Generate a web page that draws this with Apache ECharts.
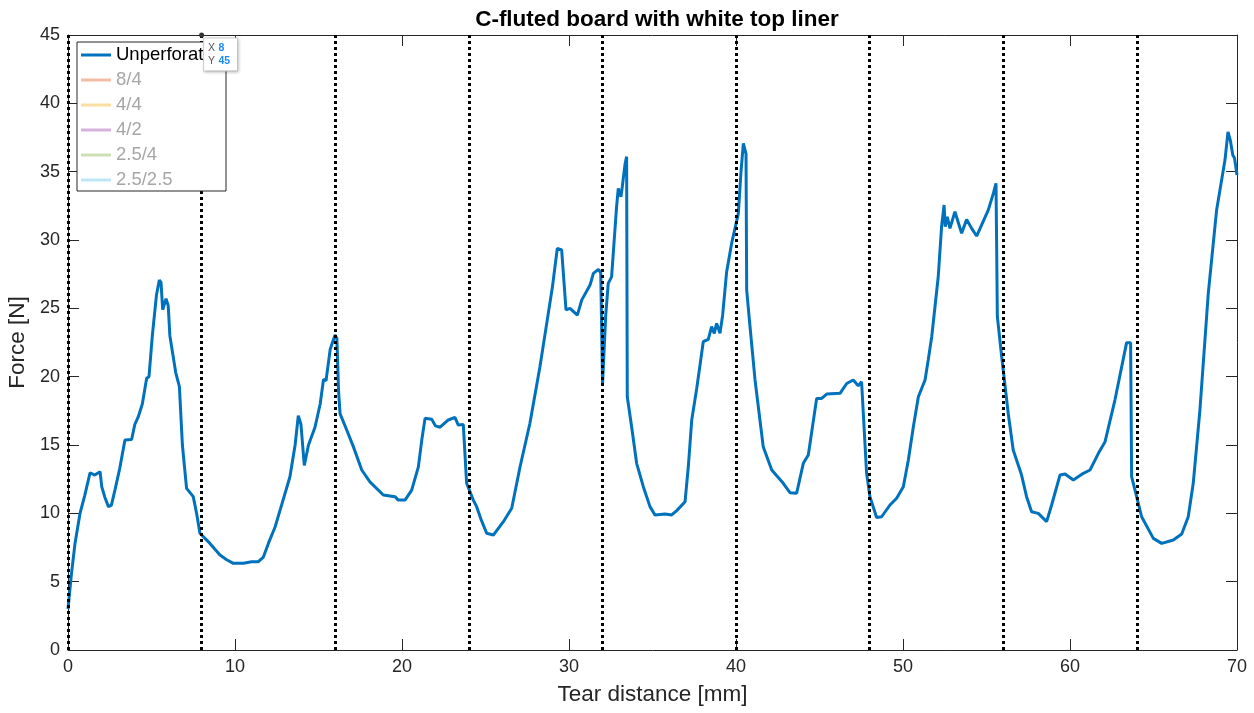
<!DOCTYPE html>
<html>
<head>
<meta charset="utf-8">
<script src="https://cdn.jsdelivr.net/npm/echarts@6/dist/echarts.min.js"></script>
<style>
html,body{margin:0;padding:0;background:#fff;}
#chart{width:1254px;height:713px;}
</style>
</head>
<body>
<div id="chart"></div>
<script>
// Tear distance [mm]
const xs = [0,0.2,0.42,0.72,1.0,1.32,1.6,1.92,2.02,2.2,2.42,2.6,2.81,3.1,3.41,3.81,4.0,4.21,4.45,4.71,4.85,5.05,5.3,5.47,5.57,5.67,5.87,6.0,6.1,6.27,6.45,6.67,6.85,7.1,7.5,7.7,7.9,8.5,9.1,9.5,9.9,10.5,11.0,11.4,11.7,12.0,12.4,12.7,13.29,13.6,13.79,13.95,14.15,14.4,14.79,15.1,15.3,15.45,15.7,15.99,16.1,16.2,16.29,16.69,17.08,17.59,18.08,18.88,19.58,19.78,20.18,20.58,20.98,21.2,21.38,21.78,22.0,22.28,22.77,23.17,23.37,23.67,23.87,24.27,24.47,24.75,25.07,25.47,26.07,26.57,27.07,27.66,28.26,28.76,29.0,29.3,29.56,29.82,30.06,30.5,30.76,31.26,31.46,31.76,31.9,32.01,32.2,32.35,32.55,32.85,32.95,33.11,33.19,33.35,33.45,33.49,33.75,34.05,34.45,34.85,35.15,35.75,36.15,36.45,36.95,37.15,37.35,37.65,38.04,38.34,38.54,38.7,38.84,39.04,39.2,39.44,39.74,40.14,40.3,40.44,40.6,40.64,40.84,41.14,41.63,42.14,42.83,43.23,43.63,44.03,44.33,44.83,45.13,45.43,46.23,46.63,47.02,47.32,47.52,47.6,47.82,48.02,48.42,48.72,49.22,49.62,50.02,50.32,50.62,50.92,51.32,51.51,51.72,52.11,52.31,52.46,52.53,52.65,52.81,53.11,53.51,53.81,54.11,54.41,54.71,55.11,55.41,55.57,55.65,55.91,56.3,56.6,57.1,57.4,57.7,58.1,58.6,58.9,59.4,59.7,60.2,60.8,61.2,61.7,62.1,62.69,63.39,63.63,63.69,63.99,64.29,64.99,65.49,66.19,66.69,67.08,67.38,67.78,68.28,68.78,69.28,69.46,69.6,69.75,69.85,70.0];
// Force [N]
const ys = [3.0,5.5,7.8,10.0,11.3,12.97,12.8,13.05,11.95,11.2,10.49,10.6,11.7,13.3,15.37,15.4,16.5,17.07,18.0,19.88,20.0,23.0,26.0,27.07,26.9,24.9,25.7,25.2,23.0,21.7,20.3,19.27,15.0,11.83,11.22,10.0,8.54,7.8,6.95,6.6,6.34,6.35,6.46,6.46,6.8,7.8,9.0,10.24,12.68,15.0,17.14,16.5,13.5,15.0,16.3,18.0,19.8,19.7,22.0,23.05,22.8,19.0,17.3,16.1,14.9,13.17,12.3,11.34,11.22,10.97,10.97,11.7,13.4,15.5,16.95,16.88,16.4,16.3,16.83,17.02,16.46,16.5,12.2,10.97,10.49,9.5,8.54,8.41,9.39,10.37,13.41,16.59,20.73,24.63,26.5,29.39,29.27,24.88,25.0,24.5,25.6,26.7,27.56,27.85,27.6,19.5,24.5,26.83,27.3,32.44,33.78,33.17,33.9,35.5,36.1,18.53,16.34,13.66,11.95,10.49,9.88,9.95,9.88,10.2,10.85,13.5,16.83,19.15,22.56,22.73,23.66,23.17,23.9,23.17,24.5,27.68,29.76,31.95,35.0,37.07,36.3,26.34,23.66,19.76,14.88,13.17,12.2,11.51,11.47,13.66,14.27,18.41,18.41,18.73,18.78,19.5,19.76,19.34,19.63,19.5,12.93,11.22,9.7,9.75,10.61,11.1,11.95,13.9,16.34,18.53,19.76,21.22,22.92,27.31,30.97,32.56,30.97,31.7,30.85,32.07,30.49,31.5,30.85,30.29,31.1,32.2,33.41,34.15,24.39,21.46,17.32,14.63,12.8,11.22,10.12,10.0,9.39,10.61,12.8,12.88,12.44,12.93,13.17,14.39,15.24,18.29,22.49,22.49,12.68,11.22,9.75,8.17,7.8,8.05,8.49,9.75,12.2,17.56,26.1,32.2,35.85,37.9,37.3,36.2,36.0,34.75];
// Perforation line positions [mm]
const dividers = [0,8,16,24,32,40,48,56,64];
// Series names (legend)
const seriesNames = ['Unperforated','8/4','4/4','4/2','2.5/4','2.5/2.5'];
const seriesColors = ['#0072BD','#f2bba3','#f8dea0','#d6b3dc','#cde0b3','#bfe6f8'];
// Data tip
const tipX = 8, tipY = 45;
const xTicks = {min:0, max:70, interval:10};
const yTicks = {min:0, max:45, interval:5};

const chart = echarts.init(document.getElementById('chart'));
const font = '"Liberation Sans", Arial, Helvetica, sans-serif';
const axisColor = '#262626';

const mainData = xs.map((x,i)=>[x, ys[i]]);

const series = [{
  name: seriesNames[0],
  type: 'line',
  data: mainData,
  showSymbol: false,
  symbol: 'none',
  z: 2,
  color: seriesColors[0],
  lineStyle: {color: seriesColors[0], width: 3},
  markLine: {
    silent: true,
    z: 3,
    symbol: ['none','none'],
    label: {show: false},
    lineStyle: {color: '#000', width: 3, type: [3,3]},
    emphasis: {disabled: true},
    data: dividers.map(d => ({xAxis: d}))
  },
  markPoint: {
    z: 10,
    silent: true,
    symbol: 'circle',
    symbolSize: 5,
    itemStyle: {color: '#333'},
    data: [{coord: [tipX, tipY]}],
    label: {
      show: true,
      position: [5, 6],
      formatter: () => '{k|X} {v|' + tipX + '}\n{k|Y} {v|' + tipY + '}',
      backgroundColor: '#fff',
      borderColor: '#d0d0d0',
      borderWidth: 1,
      padding: [3, 7, 3, 4],
      shadowColor: 'rgba(0,0,0,0.2)',
      shadowBlur: 3,
      shadowOffsetX: 1,
      shadowOffsetY: 1,
      rich: {
        k: {fontFamily: font, fontSize: 10.5, color: '#555', lineHeight: 13},
        v: {fontFamily: font, fontSize: 10.5, color: '#1a8cff', fontWeight: 'bold', lineHeight: 13}
      }
    }
  }
}];
for (let i = 1; i < seriesNames.length; i++) {
  series.push({
    name: seriesNames[i],
    type: 'line',
    data: [],
    showSymbol: false,
    color: seriesColors[i],
    lineStyle: {color: seriesColors[i], width: 3}
  });
}

const option = {
  animation: false,
  backgroundColor: '#fff',
  title: {
    text: 'C-fluted board with white top liner',
    left: 652,
    textAlign: 'center',
    top: 3,
    textStyle: {fontFamily: font, fontSize: 22.5, fontWeight: 'bold', color: '#000'}
  },
  grid: {left: 68, right: 17, top: 35, bottom: 63, containLabel: false, outerBoundsMode: 'none'},
  legend: {
    orient: 'vertical',
    left: 77,
    top: 42,
    z: 4,
    backgroundColor: '#fff',
    borderColor: axisColor,
    borderWidth: 1,
    borderRadius: 0,
    padding: [3, 4, 1, 4],
    itemGap: 5,
    itemWidth: 30,
    itemHeight: 3,
    selectedMode: false,
    textStyle: {fontFamily: font, fontSize: 18.5, lineHeight: 20, width: 106, overflow: 'truncate', ellipsis: ''},
    data: seriesNames.map((n, i) => ({
      name: n,
      icon: 'rect',
      textStyle: i === 0
        ? {color: '#000', width: 90, overflow: 'truncate', ellipsis: ''}
        : {color: '#a6a6a6'}
    }))
  },
  xAxis: [{
    type: 'value',
    min: xTicks.min, max: xTicks.max, interval: xTicks.interval,
    name: 'Tear distance [mm]',
    nameLocation: 'middle',
    nameGap: 33,
    nameTextStyle: {fontFamily: font, fontSize: 22.5, color: axisColor},
    axisLine: {show: true, onZero: false, lineStyle: {color: axisColor, width: 1}},
    axisTick: {show: true, inside: true, length: 11, lineStyle: {color: axisColor}},
    axisLabel: {fontFamily: font, fontSize: 18, color: axisColor, margin: 8},
    splitLine: {show: false}
  }, {
    type: 'value', position: 'top',
    min: xTicks.min, max: xTicks.max, interval: xTicks.interval,
    axisLine: {show: true, onZero: false, lineStyle: {color: axisColor, width: 1}},
    axisTick: {show: true, inside: true, length: 11, lineStyle: {color: axisColor}},
    axisLabel: {show: false},
    splitLine: {show: false}
  }],
  yAxis: [{
    type: 'value',
    min: yTicks.min, max: yTicks.max, interval: yTicks.interval,
    name: 'Force [N]',
    nameLocation: 'middle',
    nameGap: 31,
    nameTextStyle: {fontFamily: font, fontSize: 22.5, color: axisColor},
    axisLine: {show: true, onZero: false, lineStyle: {color: axisColor, width: 1}},
    axisTick: {show: true, inside: true, length: 11, lineStyle: {color: axisColor}},
    axisLabel: {fontFamily: font, fontSize: 18, color: axisColor, margin: 8},
    splitLine: {show: false}
  }, {
    type: 'value', position: 'right',
    min: yTicks.min, max: yTicks.max, interval: yTicks.interval,
    axisLine: {show: true, onZero: false, lineStyle: {color: axisColor, width: 1}},
    axisTick: {show: true, inside: true, length: 11, lineStyle: {color: axisColor}},
    axisLabel: {show: false},
    splitLine: {show: false}
  }],
  series: series
};
chart.setOption(option);
</script>
</body>
</html>
